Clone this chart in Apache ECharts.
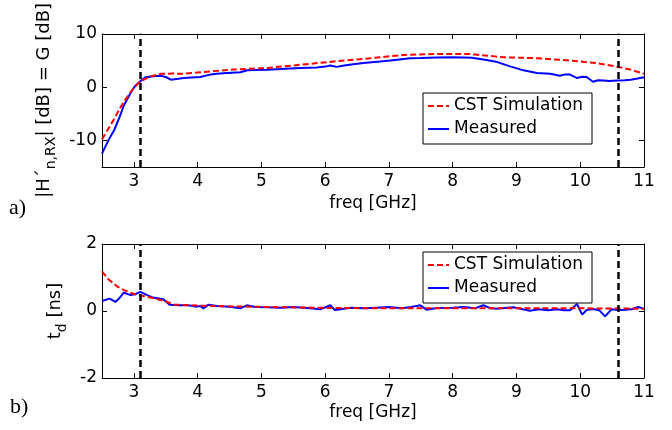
<!DOCTYPE html>
<html><head><meta charset="utf-8">
<script src="https://cdn.jsdelivr.net/npm/echarts@6/dist/echarts.min.js"></script>
<style>html,body{margin:0;padding:0;background:#fff}#c{width:672px;height:430px}</style>
</head><body><div id="c"></div>
<script>
// ---- data ----
const freqRange = [2.5, 11];
const gainRange = [-15, 10];
const delayRange = [-2, 2];
const bandEdges = [3.1, 10.6];
const seriesNames = ['CST Simulation', 'Measured'];
const panelLabels = ['a)', 'b)'];

const gainSimFreq = [2.5,2.6,2.69,2.78,2.87,2.98,3.1,3.26,3.42,3.6,3.78,4.04,4.3,4.56,5.09,5.61,6.13,6.71,7.23,7.75,8.28,8.55,8.8,9.32,9.84,10.25,10.55,10.78,11.0];
const gainSim     = [-9.8,-7.8,-6.0,-4.0,-2.3,-0.4,1.1,2.0,2.5,2.55,2.5,2.8,3.05,3.3,3.6,4.2,4.8,5.43,6.05,6.24,6.2,5.9,5.6,5.43,5.0,4.5,3.9,3.3,2.5];

const gainMeasFreq = [2.5,2.6,2.69,2.78,2.84,2.95,3.02,3.1,3.18,3.3,3.42,3.5,3.58,3.7,3.78,3.9,4.04,4.2,4.3,4.46,4.6,4.67,4.78,4.9,5.09,5.3,5.61,5.87,6.0,6.08,6.18,6.3,6.44,6.6,6.86,7.02,7.2,7.33,7.5,7.75,8.0,8.17,8.3,8.43,8.55,8.7,8.9,9.11,9.32,9.53,9.68,9.75,9.84,9.95,10.03,10.1,10.2,10.28,10.37,10.45,10.58,10.7,10.79,10.9,11.0];
const gainMeas     = [-12.5,-10.0,-8.1,-5.5,-3.5,-1.05,0.2,1.1,1.85,2.05,2.15,1.9,1.4,1.55,1.7,1.8,1.9,2.35,2.5,2.65,2.75,2.8,3.15,3.2,3.27,3.4,3.6,3.7,3.85,4.07,3.8,4.05,4.3,4.55,4.8,5.0,5.25,5.43,5.45,5.55,5.6,5.55,5.5,5.3,5.05,4.7,3.9,3.15,2.65,2.5,2.15,2.35,2.35,1.7,1.95,1.9,1.0,1.3,1.25,1.15,1.25,1.3,1.4,1.6,1.85];

const delaySimFreq = [2.5,2.6,2.74,2.85,2.98,3.1,3.23,3.35,3.5,3.62,4.04,4.5,5.08,6.12,7,8,9,10,11];
const delaySim     = [1.18,0.95,0.73,0.62,0.52,0.46,0.42,0.36,0.29,0.19,0.16,0.14,0.12,0.09,0.08,0.08,0.08,0.08,0.07];

const delayMeasFreq = [2.5,2.53,2.62,2.71,2.78,2.84,2.94,3.02,3.1,3.2,3.3,3.46,3.56,3.7,3.85,3.99,4.04,4.09,4.17,4.3,4.5,4.67,4.77,4.9,5.08,5.3,5.5,5.72,5.92,6.08,6.15,6.24,6.4,6.61,6.8,7.0,7.2,7.35,7.49,7.59,7.75,8.0,8.17,8.35,8.48,8.6,8.69,8.85,8.95,9.1,9.21,9.35,9.5,9.63,9.75,9.84,9.95,10.03,10.1,10.2,10.3,10.39,10.49,10.58,10.67,10.8,10.91,10.99,11.0];
const delayMeas     = [0.3,0.32,0.37,0.27,0.4,0.55,0.48,0.5,0.57,0.48,0.4,0.35,0.19,0.17,0.17,0.13,0.15,0.08,0.19,0.15,0.13,0.08,0.17,0.12,0.11,0.1,0.12,0.09,0.05,0.17,0.03,0.05,0.1,0.08,0.1,0.12,0.08,0.12,0.17,0.04,0.09,0.1,0.12,0.08,0.17,0.08,0.07,0.1,0.11,0.05,0.01,0.05,0.02,0.05,0.02,0.02,0.21,-0.11,0.03,0.06,0.02,-0.16,0.05,0.03,0.03,0.05,0.12,0.07,0.08];

// ---- chart ----
const FONT = 'DejaVu Sans';
const zip = (xs, ys) => xs.map((x, i) => [x, ys[i]]);
const axisLine = { show: true, onZero: false, lineStyle: { color: '#000', width: 1 } };
const tick = { show: true, inside: true, length: 5, lineStyle: { color: '#000', width: 1 } };
const lbl = { color: '#000', fontFamily: FONT, fontSize: 17 };
const nameRich = {
  m: { fontFamily: FONT, fontSize: 18, color: '#000', lineHeight: 20, verticalAlign: 'top' },
  s: { fontFamily: FONT, fontSize: 14, color: '#000', lineHeight: 14, verticalAlign: 'top', padding: [9, 0, 0, 0] }
};

function xAxes(gi, nameGap) {
  return [
    { type: 'value', gridIndex: gi, position: 'bottom', min: freqRange[0], max: freqRange[1], splitNumber: 9,
      axisLine, axisTick: tick, splitLine: { show: false },
      axisLabel: Object.assign({ margin: 6, showMinLabel: false }, lbl),
      name: 'freq [GHz]', nameLocation: 'middle', nameGap,
      nameTextStyle: { fontFamily: FONT, fontSize: 17, color: '#000' } },
    { type: 'value', gridIndex: gi, position: 'top', min: freqRange[0], max: freqRange[1], splitNumber: 9,
      axisLine, axisTick: tick, splitLine: { show: false }, axisLabel: { show: false } }
  ];
}
function yAxes(gi, range, opts, name) {
  return [
    Object.assign({ type: 'value', gridIndex: gi, position: 'left', min: range[0], max: range[1],
      axisLine, axisTick: tick, splitLine: { show: false },
      axisLabel: Object.assign({ margin: 5, showMinLabel: gi === 0 ? false : true }, lbl),
      name, nameLocation: 'middle', nameRotate: 90, nameGap: 27,
      nameTextStyle: { rich: nameRich } }, opts),
    Object.assign({ type: 'value', gridIndex: gi, position: 'right', min: range[0], max: range[1],
      axisLine, axisTick: tick, splitLine: { show: false }, axisLabel: { show: false } }, opts)
  ];
}

const simStyle = { color: '#ff0000', width: 2, type: [6, 3] };
const measStyle = { color: '#0000ff', width: 2, type: 'solid' };
const vLines = {
  silent: true, symbol: ['none', 'none'], label: { show: false },
  lineStyle: { color: '#000', width: 2.5, type: [7, 4] },
  data: bandEdges.map(v => ({ xAxis: v }))
};

function legend(top) {
  return {
    orient: 'vertical', left: 423, top, data: seriesNames,
    backgroundColor: '#fff', borderColor: '#000', borderWidth: 1, borderRadius: 0,
    padding: [3, 9, 5, 4], itemGap: 3, itemWidth: 21, itemHeight: 14, itemTextGap: 3,
    itemStyle: { opacity: 0 },
    lineStyle: { width: 2 },
    textStyle: { fontFamily: FONT, fontSize: 17, color: '#000', lineHeight: 20 },
    selectedMode: false
  };
}

const option = {
  animation: false,
  backgroundColor: '#fff',
  grid: [
    { left: 102, top: 32, width: 542, height: 135 },
    { left: 102, top: 244, width: 542, height: 134 }
  ],
  xAxis: [...xAxes(0, 28), ...xAxes(1, 26)],
  yAxis: [
    ...yAxes(0, gainRange, { splitNumber: 3 }, '{m||H´}{s|n,RX}{m|| [dB] = G [dB]}'),
    ...yAxes(1, delayRange, { interval: 2 }, '{m|t}{s|d}{m| [ns]}')
  ],
  legend: [legend(93), legend(252)],
  series: [
    { name: seriesNames[0], type: 'line', xAxisIndex: 0, yAxisIndex: 0, symbol: 'none', lineStyle: simStyle, itemStyle: { color: '#ff0000' }, data: zip(gainSimFreq, gainSim), z: 3 },
    { name: seriesNames[1], type: 'line', xAxisIndex: 0, yAxisIndex: 0, symbol: 'none', lineStyle: measStyle, itemStyle: { color: '#0000ff' }, data: zip(gainMeasFreq, gainMeas), z: 2, markLine: vLines },
    { name: seriesNames[0], type: 'line', xAxisIndex: 2, yAxisIndex: 2, symbol: 'none', lineStyle: simStyle, itemStyle: { color: '#ff0000' }, data: zip(delaySimFreq, delaySim), z: 3 },
    { name: seriesNames[1], type: 'line', xAxisIndex: 2, yAxisIndex: 2, symbol: 'none', lineStyle: measStyle, itemStyle: { color: '#0000ff' }, data: zip(delayMeasFreq, delayMeas), z: 2, markLine: vLines }
  ],
  graphic: [
    { type: 'text', left: 9, top: 197, style: { text: panelLabels[0], font: '22px "Liberation Serif"', fill: '#000' } },
    { type: 'text', left: 10, top: 396, style: { text: panelLabels[1], font: '22px "Liberation Serif"', fill: '#000' } }
  ]
};
const chart = echarts.init(document.getElementById('c'), null, { renderer: 'canvas' });
chart.setOption(option);
</script></body></html>
